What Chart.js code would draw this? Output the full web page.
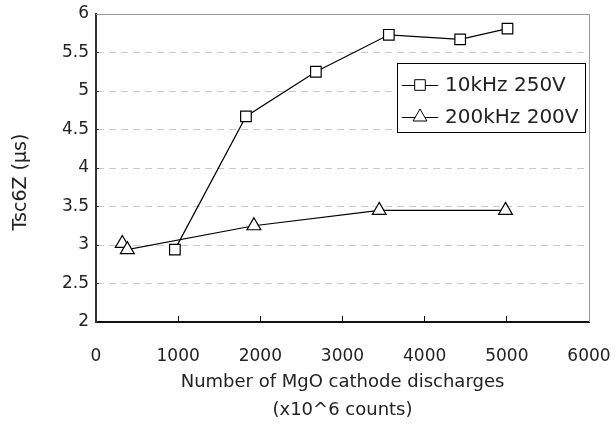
<!DOCTYPE html>
<html>
<head>
<meta charset="utf-8">
<script src="https://cdn.jsdelivr.net/npm/chart.js@4"></script>
<style>
  html, body { margin: 0; padding: 0; background: #fff; }
  #wrap { width: 616px; height: 425px; position: relative; }
</style>
</head>
<body>
<div id="wrap"><canvas id="chLine" width="616" height="425"></canvas></div>
<script>
// data
var seriesNames = ['10kHz 250V', '200kHz 200V'];
var sqX = [960, 1825, 2676, 3564, 4432, 5008];
var sqY = [2.94, 4.67, 5.25, 5.73, 5.67, 5.81];
var triX = [320, 381, 1922, 3447, 4984];
var triY = [3.02, 2.94, 3.25, 3.45, 3.45];
var xTicks = [0, 1000, 2000, 3000, 4000, 5000, 6000];
var yTicks = [2, 2.5, 3, 3.5, 4, 4.5, 5, 5.5, 6];
var yTitle = 'Tsc6Z (\u03bcs)';
var xTitle = ['Number of MgO cathode discharges', '(x10^6 counts)'];

var fontFace = '"DejaVu Sans", Arial, sans-serif';
var textColor = '#222';

function toPoints(xs, ys) {
    return xs.map(function (x, i) { return { x: x, y: ys[i] }; });
}

// frame, y title and the boxed legend inside the plot
var extras = {
    id: 'extras',
    beforeDatasetsDraw: function (chart) {
        var a = chart.chartArea, ctx = chart.ctx;
        ctx.save();
        ctx.strokeStyle = '#999';
        ctx.lineWidth = 1;
        ctx.beginPath();
        ctx.moveTo(a.left, a.top + 0.5);
        ctx.lineTo(a.right + 0.5, a.top + 0.5);
        ctx.lineTo(a.right + 0.5, a.bottom);
        ctx.stroke();
        ctx.restore();
    },
    afterDraw: function (chart) {
        var ctx = chart.ctx;
        ctx.save();
        // y axis title
        ctx.translate(21, 182);
        ctx.rotate(-Math.PI / 2);
        ctx.fillStyle = textColor;
        ctx.font = '19px ' + fontFace;
        ctx.textAlign = 'center';
        ctx.textBaseline = 'middle';
        ctx.fillText(yTitle, 0, 0);
        ctx.restore();

        // legend box
        var bx = 397, by = 63, bw = 188, bh = 69;
        ctx.save();
        ctx.fillStyle = '#fff';
        ctx.fillRect(bx, by, bw, bh);
        ctx.strokeStyle = '#000';
        ctx.lineWidth = 1;
        ctx.strokeRect(bx + 0.5, by + 0.5, bw, bh);
        var rows = [85, 117];
        chart.data.datasets.forEach(function (ds, i) {
            var y = rows[i];
            ctx.strokeStyle = '#000';
            ctx.beginPath();
            ctx.moveTo(402, y + 0.5);
            ctx.lineTo(438, y + 0.5);
            ctx.stroke();
            ctx.fillStyle = '#fff';
            Chart.helpers.drawPoint(ctx, {
                pointStyle: ds.pointStyle,
                radius: ds.pointRadius,
                borderWidth: 1
            }, 420, y);
            ctx.fillStyle = textColor;
            ctx.font = '20px ' + fontFace;
            ctx.textAlign = 'left';
            ctx.textBaseline = 'middle';
            ctx.fillText(ds.label, 445, y + 1);
        });
        ctx.restore();
    }
};

var dsCommon = {
    showLine: true,
    borderColor: '#000',
    borderWidth: 1.2,
    backgroundColor: '#fff',
    pointBorderColor: '#000',
    pointBackgroundColor: '#fff',
    pointBorderWidth: 1.2,
    tension: 0
};

new Chart(document.getElementById('chLine'), {
    type: 'scatter',
    data: {
        datasets: [
            Object.assign({}, dsCommon, {
                label: seriesNames[0], data: toPoints(sqX, sqY),
                pointStyle: 'rect', pointRadius: 7.5
            }),
            Object.assign({}, dsCommon, {
                label: seriesNames[1], data: toPoints(triX, triY),
                pointStyle: 'triangle', pointRadius: 8
            })
        ]
    },
    options: {
        responsive: false,
        animation: false,
        layout: { padding: { top: 14, right: 27, left: 0, bottom: 0 } },
        plugins: { legend: { display: false }, tooltip: { enabled: false } },
        scales: {
            x: {
                type: 'linear', min: 0, max: 6000,
                afterBuildTicks: function (s) { s.ticks = xTicks.map(function (v) { return { value: v }; }); },
                afterFit: function (s) { s.height = 103; s.paddingLeft = 0; s.paddingRight = 0; },
                border: { color: '#111', width: 2 },
                grid: { color: 'rgba(0,0,0,0)', tickColor: '#111', tickLength: -6, tickWidth: 1 },
                ticks: {
                    padding: 30, maxRotation: 0, autoSkip: false, color: textColor,
                    font: { family: fontFace, size: 17 },
                    callback: function (v) { return String(v); }
                },
                title: {
                    display: true, text: xTitle, color: textColor,
                    font: { family: fontFace, size: 18, lineHeight: 1.55 },
                    padding: { top: 0, bottom: 1 }
                }
            },
            y: {
                type: 'linear', min: 2, max: 6,
                afterBuildTicks: function (s) { s.ticks = yTicks.map(function (v) { return { value: v }; }); },
                afterFit: function (s) { s.width = 96; s.paddingTop = 0; s.paddingBottom = 0; },
                border: { color: '#333', width: 2, dash: [7, 5] },
                grid: {
                    color: function (c) {
                        var v = c.tick ? c.tick.value : null;
                        return (v === 2 || v === 6) ? 'rgba(0,0,0,0)' : '#c8c8c8';
                    },
                    tickColor: '#333', tickLength: -3, tickWidth: 1
                },
                ticks: {
                    padding: 10, autoSkip: false, color: textColor,
                    font: { family: fontFace, size: 17 },
                    callback: function (v) { return String(v); }
                }
            }
        }
    },
    plugins: [extras]
});
</script>
</body>
</html>
